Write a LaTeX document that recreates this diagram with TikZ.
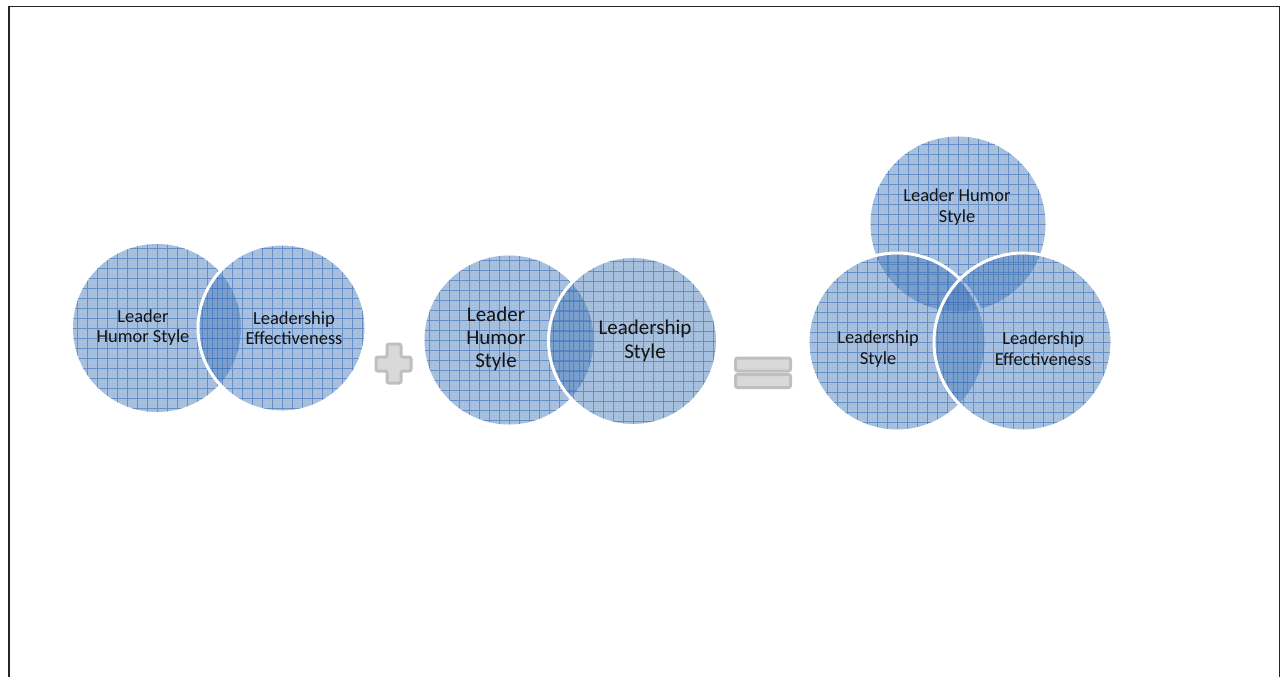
\documentclass[tikz,border=0pt]{standalone}
\usepackage{fontspec}
\setmainfont{Carlito}
\definecolor{vblue}{RGB}{79,129,189}
\definecolor{gline}{RGB}{60,110,185}
\definecolor{ink}{RGB}{20,20,20}
\tikzset{
  venn/.style={circle, inner sep=0pt, minimum size=#1, fill=vblue, fill opacity=0.48,
    text opacity=1,
    path picture={
      \draw[gline, draw opacity=0.07, line width=0.5pt, step=2.5pt]
        ([shift={(-5pt,-5pt)}]path picture bounding box.south west) grid
        ([shift={(5pt,5pt)}]path picture bounding box.north east);
      \draw[gline, draw opacity=0.6, line width=0.7pt, step=10pt]
        ([shift={(-10pt,-10pt)}]path picture bounding box.south west) grid
        ([shift={(10pt,10pt)}]path picture bounding box.north east);
    }},
  ring/.style={draw=white, draw opacity=1, line width=3pt},
  lbl/.style={align=center, text=ink, inner sep=0pt},
  small/.style={font=\fontsize{18.5}{20}\selectfont},
  smallb/.style={font=\fontsize{18.4}{21}\selectfont},
  big/.style={font=\fontsize{21}{23.3}\selectfont},
  signbox/.style={fill=gray!30, draw=gray!50, line width=3pt, rounded corners=2pt},
}
\begin{document}
\begin{tikzpicture}[x=1pt, y=-1pt]
\useasboundingbox (0,0) rectangle (1282,677);
% frame
\coordinate (f1) at (9,677);
\coordinate (f2) at (9,6.5);
\coordinate (f3) at (1279.5,6.5);
\coordinate (f4) at (1279.5,677);
\draw[line width=1.4pt, black!85] (f1) -- (f2) -- (f3) -- (f4);

% pair 1
\node[venn=168pt] (a1) at (157,328) {};
\node[venn=168pt, ring] (a2) at (282,328) {};
% pair 2
\node[venn=169pt] (b1) at (509,340) {};
\node[venn=169pt, ring] (b2) at (633,341) {};
% triple
\node[venn=175pt] (c1) at (958,224) {};
\node[venn=178pt, ring] (c2) at (897,342) {};
\node[venn=178pt, ring] (c3) at (1023,342) {};

% plus
\path[signbox] (387,344) -- (401,344) -- (401,357) -- (411,357) -- (411,371) -- (401,371)
  -- (401,383) -- (387,383) -- (387,371) -- (376,371) -- (376,357) -- (387,357) -- cycle;
% equals
\node[signbox, minimum width=55pt, minimum height=13pt, inner sep=0pt] (eq1) at (763,364.5) {};
\node[signbox, minimum width=55pt, minimum height=13pt, inner sep=0pt] (eq2) at (763,381) {};

% labels
\node[lbl, small] (ta1) at (143,328) {Leader\\Humor Style};
\node[lbl, small] (ta2) at (294,328) {Leadership\\Effectiveness};
\node[lbl, big] (tb1) at (496,339) {Leader\\Humor\\Style};
\node[lbl, big] (tb2) at (645,341) {Leadership\\Style};
\node[lbl, smallb] (tc1) at (957,207) {Leader Humor\\Style};
\node[lbl, smallb] (tc2) at (878,349) {Leadership\\Style};
\node[lbl, smallb] (tc3) at (1043,349) {Leadership\\Effectiveness};
\end{tikzpicture}
\end{document}
